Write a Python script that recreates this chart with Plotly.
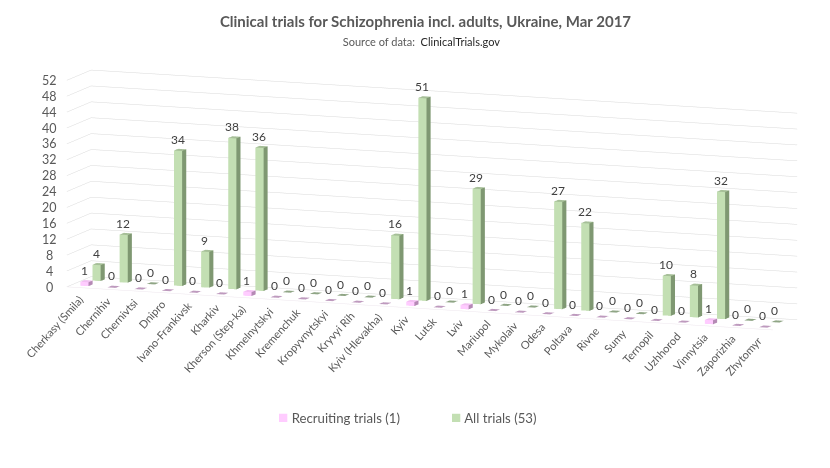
import plotly.graph_objects as go

categories = ["Cherkasy (Smila)", "Chernihiv", "Chernivtsi", "Dnipro", "Ivano-Frankivsk", "Kharkiv",
              "Kherson (Step-ka)", "Khmelnytskyi", "Kremenchuk", "Kropyvnytskyi", "Kryvyi Rih",
              "Kyiv (Hlevakha)", "Kyiv", "Lutsk", "Lviv", "Mariupol", "Mykolaiv", "Odesa", "Poltava",
              "Rivne", "Sumy", "Ternopil", "Uzhhorod", "Vinnytsia", "Zaporizhia", "Zhytomyr"]
recruiting = [1, 0, 0, 0, 0, 0, 1, 0, 0, 0, 0, 0, 1, 0, 1, 0, 0, 0, 0, 0, 0, 0, 0, 1, 0, 0]
all_trials = [4, 12, 0, 34, 9, 38, 36, 0, 0, 0, 0, 16, 51, 0, 29, 0, 0, 27, 22, 0, 0, 10, 8, 32, 0, 0]
z_ticks = list(range(0, 53, 4))

FONT = "Lato"
HALF_W, HALF_D = 0.15, 0.17


def bars(values, row, front, side, top, flat, name):
    xs, ys, zs, ii, jj, kk, colors = [], [], [], [], [], [], []
    for c, v in enumerate(values):
        x0, x1 = c - HALF_W, c + HALF_W
        y0, y1 = row - HALF_D, row + HALF_D
        n = len(xs)
        xs += [x0, x1, x1, x0, x0, x1, x1, x0]
        ys += [y0, y0, y1, y1, y0, y0, y1, y1]
        zs += [0, 0, 0, 0, v, v, v, v]
        faces = [((0, 1, 5), front), ((0, 5, 4), front),
                 ((1, 2, 6), side), ((1, 6, 5), side),
                 ((4, 5, 6), top if v else flat), ((4, 6, 7), top if v else flat)]
        for (a, b, d), col in faces:
            ii.append(n + a); jj.append(n + b); kk.append(n + d); colors.append(col)
    return go.Mesh3d(x=xs, y=ys, z=zs, i=ii, j=jj, k=kk, facecolor=colors, flatshading=True,
                     lighting=dict(ambient=1, diffuse=0, specular=0, roughness=1, fresnel=0),
                     hoverinfo="skip", showlegend=False, name=name)


def labels(values, row):
    return [dict(x=c, y=row, z=v, text=str(v), showarrow=False, xanchor="center", yanchor="middle",
                 yshift=11, xshift=-2.5, font=dict(family=FONT, size=12, color="#404040"))
            for c, v in enumerate(values)]


fig = go.Figure([
    bars(recruiting, 0.5, "#FFCCFF", "#B58AB5", "#F2BFF2", "#BE9ABE", "Recruiting trials (1)"),
    bars(all_trials, 1.5, "#C3DFB3", "#7F9872", "#A6BF98", "#8FA585", "All trials (53)"),
])

cat_labels = [dict(x=c, y=0, z=0, text=t, textangle=-48, showarrow=False, xanchor="right", yanchor="top",
                   yshift=-2, xshift=8, font=dict(family=FONT, size=11, color="#595959"))
              for c, t in enumerate(categories)]
tick_labels = [dict(x=-0.5, y=0, z=t, text=str(t), showarrow=False, xanchor="center", yanchor="middle",
                    xshift=-17, font=dict(family=FONT, size=12.5, color="#595959"))
               for t in z_ticks]

plain = dict(showbackground=False, showgrid=False, zeroline=False, showticklabels=False, ticks="",
             showline=False, showspikes=False, title=dict(text=""))
key_font = dict(family=FONT, size=13.2, color="#595959")
fig.update_layout(
    width=830, height=468, margin=dict(l=0, r=0, t=0, b=0), paper_bgcolor="white", showlegend=False,
    title=dict(text="<b>Clinical trials for Schizophrenia incl. adults, Ukraine, Mar 2017</b>"
                    "<br><span style='font-size:11px;color:#595959'>Source of data:  "
                    "<span style='color:#262626'>ClinicalTrials.gov</span>&nbsp;&nbsp;&nbsp;</span>",
               x=0.503, xanchor="center", y=0.96, yanchor="top",
               font=dict(family=FONT, size=15, color="#595959")),
    annotations=[
        dict(xref="paper", yref="paper", x=268 / 830, y=1 - 408 / 468, xanchor="left", yanchor="middle",
             showarrow=False, font=key_font,
             text="<span style='color:#FFCCFF;font-size:17px'>■</span> Recruiting trials (1)"),
        dict(xref="paper", yref="paper", x=441 / 830, y=1 - 408 / 468, xanchor="left", yanchor="middle",
             showarrow=False, font=key_font,
             text="<span style='color:#C3DFB3;font-size:17px'>■</span> All trials (53)"),
    ],
    scene=dict(
        domain=dict(x=[0.0217, 1], y=[0.179, 1]),
        aspectmode="manual", aspectratio=dict(x=3.934, y=0.355, z=1.09),
        camera=dict(projection=dict(type="orthographic"), up=dict(x=0, y=0, z=1),
                    center=dict(x=0, y=0, z=0), eye=dict(x=0.70, y=-1.84, z=0.32)),
        xaxis=dict(range=[-0.5, 25.5], **{**plain, "showline": True, "linecolor": "#EDE6ED", "linewidth": 1}),
        yaxis=dict(range=[0, 2], **plain),
        zaxis=dict(range=[0, 52], tickvals=z_ticks, showbackground=False, showgrid=True, gridcolor="#D9D9D9",
                   gridwidth=1, zeroline=False, showticklabels=False, ticks="", showline=False, showspikes=False,
                   title=dict(text="")),
        annotations=cat_labels + tick_labels + labels(recruiting, 0.5) + labels(all_trials, 1.5),
    ),
)
fig.write_html("out.html", config=dict(displayModeBar=False))
